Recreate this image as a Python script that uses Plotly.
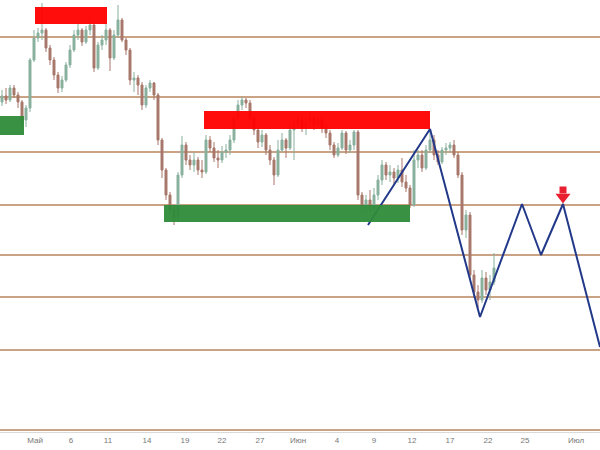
import plotly.graph_objects as go

# ---- data (price units; one candle per bar) ----
opens = [398,404,400,412,405,398,380,392,440,462, 467,470,452,440,425,412,420,435,450,465,
         470,458,470,475,432,455,460,470,442,465, 480,460,450,420,422,415,395,412,417,405,
         360,330,305,290,282,325,355,340,335,340, 330,328,360,352,342,340,348,350,360,382,
         395,400,397,382,370,358,365,350,340,325, 350,360,352,370,375,380,372,378,382,375,
         380,372,367,355,345,352,367,350,355,368, 305,295,300,293,305,320,335,325,328,322,
         330,318,312,295,340,345,332,350,360,345, 338,350,352,355,345,325,270,285,225,208,
         200,222,210,218]
closes = [404,400,412,405,398,380,392,440,462,467, 470,452,440,425,412,420,435,450,465,470,
          458,470,475,432,455,460,470,442,465,480, 460,450,420,422,415,395,412,417,405,360,
          330,305,290,282,325,355,340,335,340,330, 328,360,352,342,340,348,350,360,382,395,
          400,397,382,370,358,365,350,340,325,350, 360,352,370,375,380,372,378,382,375,380,
          372,367,355,345,352,367,350,355,368,305, 295,300,293,305,320,335,325,328,322,330,
          318,312,295,340,345,332,350,360,345,338, 350,352,355,345,325,270,285,225,208,200,
          222,210,218,232]
highs = [410,412,415,415,408,400,395,442,470,472, 497,472,455,443,428,424,438,455,470,478,
         472,474,480,476,458,465,478,472,470,495, 482,462,452,428,425,418,415,420,418,407,
         362,332,308,295,328,364,358,345,348,343, 340,365,364,358,350,354,356,365,385,400,
         403,402,400,385,372,370,367,355,343,360, 367,362,375,382,385,383,382,387,385,384,
         383,376,370,358,357,370,369,360,370,370, 308,305,310,312,325,340,338,335,332,335,
         342,325,315,350,350,350,355,370,365,350, 353,357,358,360,348,328,290,288,230,215,
         230,228,225,247]
lows = [394,396,398,402,392,375,373,388,438,458, 460,448,435,420,407,408,418,432,448,460,
        454,456,465,428,430,450,455,429,440,462, 458,445,415,408,405,390,392,408,400,355,
        322,300,285,275,278,322,335,330,328,325, 322,326,348,338,332,337,342,345,357,380,
        390,392,378,365,352,353,345,335,315,323, 348,342,350,340,372,368,365,374,370,372,
        367,362,350,342,343,350,346,347,350,300, 290,288,288,290,300,315,320,318,315,317,
        313,308,292,293,332,328,330,347,340,335, 336,345,348,342,322,265,262,220,202,192,
        197,205,200,215]
candle_idx = list(range(len(closes)))

# horizontal support / resistance levels
levels = [463, 403, 348, 295, 245, 203, 150, 70]

# zones
zone_x0 = [8.25, -0.5, 50.5, 40.5]
zone_x1 = [26.25, 5.5, 107.0, 102.0]
zone_y0 = [476, 365, 371, 278]
zone_y1 = [493, 384, 389, 295]
zone_col = ["#ff0000", "#2e8b3a", "#ff0000", "#2e8b3a"]

# projected zigzag path
zig_x = [91.5, 107.0, 119.5, 130.0, 134.75, 140.25, 149.5]
zig_y = [275, 371, 183, 296, 245, 296, 153]

# sell signal arrow: stem and head
arrow_x = [140.25, 140.25]
arrow_y = [310, 303]

tick_vals = [8.25, 17.25, 26.5, 36.25, 45.75, 55, 64.5, 74, 83.75, 93, 102.5, 112, 121.5, 130.75, 143.5]
tick_text = ["Май", "6", "11", "14", "19", "22", "27", "Июн", "4", "9", "12", "17", "22", "25", "Июл"]

fig = go.Figure()

fig.add_trace(go.Candlestick(
    x=candle_idx, open=opens, high=highs, low=lows, close=closes,
    increasing=dict(line=dict(color="#88b09d", width=1), fillcolor="#88b09d"),
    decreasing=dict(line=dict(color="#a8776a", width=1), fillcolor="#a8776a"),
    whiskerwidth=0, showlegend=False, hoverinfo="skip",
))

for lv in levels:
    fig.add_hline(y=lv, line=dict(color="#b9855c", width=1.5), layer="below")

for x0, x1, y0, y1, c in zip(zone_x0, zone_x1, zone_y0, zone_y1, zone_col):
    fig.add_shape(type="rect", x0=x0, x1=x1, y0=y0, y1=y1, fillcolor=c,
                  line=dict(width=0), opacity=0.95, layer="above")

fig.add_trace(go.Scatter(x=zig_x, y=zig_y, mode="lines",
                         line=dict(color="#22398a", width=2), showlegend=False, hoverinfo="skip"))

fig.add_trace(go.Scatter(x=arrow_x, y=arrow_y, mode="markers", opacity=1,
                         marker=dict(symbol=["square", "triangle-down"], size=[7, 13],
                                     color="#e8202f", opacity=1, line=dict(width=0)),
                         showlegend=False, hoverinfo="skip"))

fig.update_layout(
    width=600, height=450,
    margin=dict(l=0, r=0, t=0, b=18),
    paper_bgcolor="white", plot_bgcolor="white",
    showlegend=False,
    xaxis=dict(range=[-0.5, 149.5], tickvals=tick_vals, ticktext=tick_text,
               showgrid=False, zeroline=False, showline=True, linecolor="#d9d9d9",
               ticks="", rangeslider=dict(visible=False),
               tickfont=dict(family="Liberation Sans", size=8, color="#777777")),
    yaxis=dict(range=[68, 500], visible=False, showgrid=False, zeroline=False),
)

fig.write_html("out.html")
